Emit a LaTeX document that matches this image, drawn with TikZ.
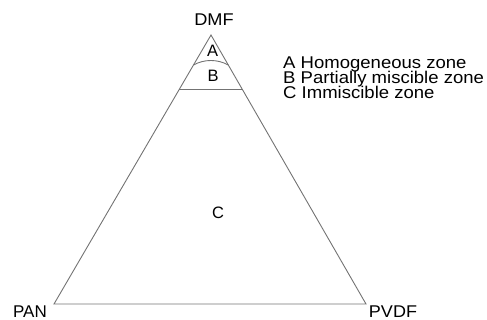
\documentclass[tikz,border=0pt]{standalone}
\usepackage{fontspec}
\setmainfont{Liberation Sans}
\usetikzlibrary{calc}
\begin{document}
\begin{tikzpicture}[x=1pt,y=-1pt,
  edge/.style={draw=black!55,line width=0.9pt},
  corner/.style={anchor=base,inner sep=0pt,font=\fontsize{17}{17}\selectfont},
  zone/.style={anchor=base,inner sep=0pt,font=\fontsize{16.5}{16.5}\selectfont},
  legend/.style={anchor=base west,inner sep=0pt,text height=12pt,text depth=2pt,font=\fontsize{17}{17}\selectfont}]
\useasboundingbox (0,0) rectangle (487,320);
\coordinate (top) at (211,35);
\coordinate (left) at (54,304);
\coordinate (right) at (366,304);
\draw[edge,line join=miter] (top) -- (left) -- (right) -- cycle;
\coordinate (bl) at ($(top)!54/269!(left)$);
\coordinate (br) at ($(top)!54/269!(right)$);
\coordinate (al) at ($(top)!30/269!(left)$);
\coordinate (ar) at ($(top)!30/269!(right)$);
\draw[edge] (bl) -- (br);
\draw[edge] (al) .. controls ($(al)+(11,-6)$) and ($(ar)+(-11,-6)$) .. (ar);
\node[corner] (dmf) at (214,26) {\scalebox{1.07}[1]{DMF}};
\node[corner] (pan) at (30,317.5) {PAN};
\node[corner] (pvdf) at (393,317) {\scalebox{1.06}[1]{PVDF}};
\node[zone] (za) at (212.5,57) {A};
\node[zone] (zb) at (213,82) {B};
\node[zone] (zc) at (218,219) {C};
\node[legend] (la) at (283,69) {\scalebox{1.09}[1]{A Homogeneous zone}};
\node[legend] (lb) at (283,84) {\scalebox{1.09}[1]{B Partially miscible zone}};
\node[legend] (lc) at (283,99) {\scalebox{1.09}[1]{C Immiscible zone}};
\end{tikzpicture}
\end{document}
